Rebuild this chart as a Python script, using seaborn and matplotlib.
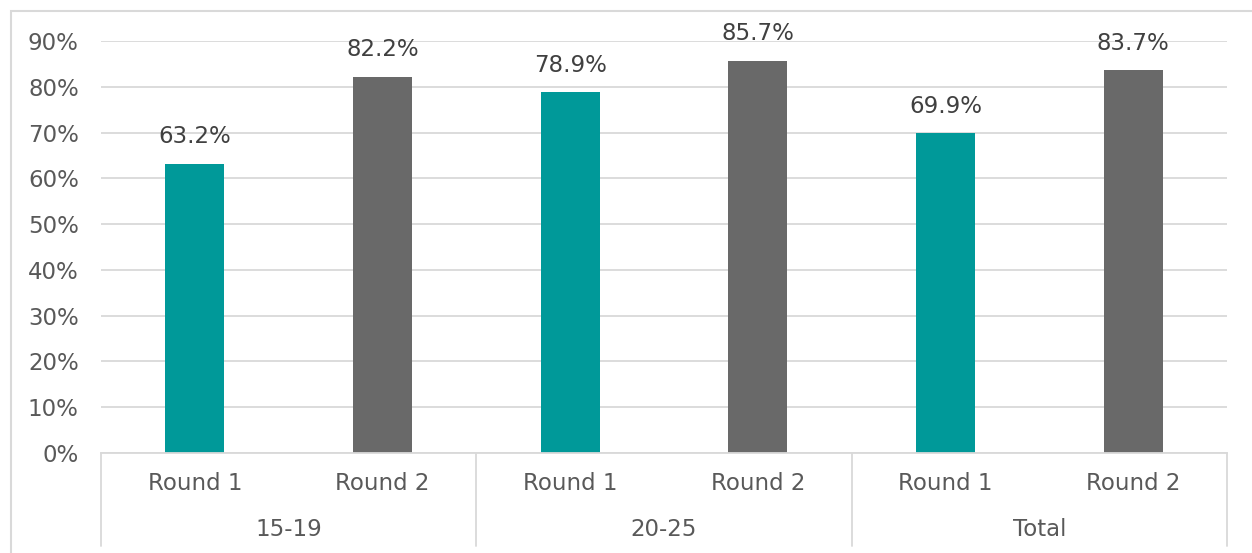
import matplotlib
matplotlib.use("Agg")
import matplotlib.pyplot as plt
import matplotlib.transforms as mtransforms
from matplotlib.patches import Rectangle
import seaborn as sns
import pandas as pd

groups = ["15-19", "20-25", "Total"]
rounds = ["Round 1", "Round 2"]
values = [63.2, 82.2, 78.9, 85.7, 69.9, 83.7]
yticks = [0, 10, 20, 30, 40, 50, 60, 70, 80, 90]
colors = {"Round 1": "#009999", "Round 2": "#696969"}

keys = [f"{g}|{r}" for g in groups for r in rounds]
df = pd.DataFrame({
    "key": keys,
    "round": [r for g in groups for r in rounds],
    "value": values,
})

sns.set_theme(style="white")
plt.rcParams["font.family"] = ["DejaVu Sans"]
FS = 16.5

fig = plt.figure(figsize=(12.52, 5.53), dpi=100)
W, H = 1252, 553
ax = fig.add_axes([101 / W, 1 - 453 / H, (1227 - 101) / W, (453 - 41) / H])

sns.barplot(data=df, x="key", y="value", hue="round", palette=colors,
            dodge=False, width=0.315, ax=ax, legend=False, saturation=1,
            linewidth=0, edgecolor="none")

ax.set_ylim(0, 90)
ax.set_xlim(-0.5, 5.5)
ax.set_yticks(yticks)
ax.set_yticklabels([f"{t}%" for t in yticks], fontsize=FS, color="#595959")
ax.tick_params(axis="y", length=0, pad=16)
ax.tick_params(axis="x", length=0)
ax.yaxis.grid(True, color="#d9d9d9", linewidth=1.3)
ax.set_axisbelow(True)
for s in ["top", "right", "left"]:
    ax.spines[s].set_visible(False)
ax.spines["bottom"].set_color("#d9d9d9")
ax.spines["bottom"].set_linewidth(1.3)
ax.set_xlabel("")
ax.set_ylabel("")
ax.set_xticks(range(len(keys)))
ax.set_xticklabels([""] * len(keys))

trans = mtransforms.blended_transform_factory(ax.transData, ax.transAxes)
axh = 453 - 41
for i, k in enumerate(keys):
    r = k.split("|")[1]
    ax.text(i, -30 / axh, r, transform=trans, ha="center", va="center",
            fontsize=FS, color="#595959")
for gi, g in enumerate(groups):
    ax.text(gi * 2 + 0.5, -77 / axh, g, transform=trans, ha="center", va="center",
            fontsize=FS, color="#595959")
for b in [-0.5, 1.5, 3.5, 5.5]:
    ax.plot([b, b], [0, -93 / axh], transform=trans, color="#d9d9d9",
            linewidth=1.3, clip_on=False)

for i, v in enumerate(values):
    ax.annotate(f"{v:.1f}%", (i, v), xytext=(0, 11), textcoords="offset points",
                ha="center", va="bottom", fontsize=FS, color="#404040",
                annotation_clip=False)

fig.patches.append(Rectangle((11 / W, -0.1), 1.2, 1 - 11 / H + 0.1,
                             transform=fig.transFigure, fill=False,
                             edgecolor="#d9d9d9", linewidth=1.5))

fig.savefig("out.png", dpi=100)
